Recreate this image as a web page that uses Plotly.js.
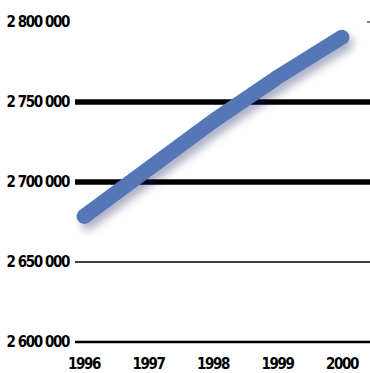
<!DOCTYPE html>
<html>
<head>
<meta charset="utf-8">
<script src="https://cdn.plot.ly/plotly-3.0.1.min.js"></script>
<style>
  html, body { margin: 0; padding: 0; background: #fff; }
  #chart { width: 370px; height: 373px; }
  .scatterlayer .trace path.js-line {
    stroke-linecap: round;
    filter: drop-shadow(4px 6px 4px rgba(20, 30, 90, 0.35));
  }
  .xtick text, .ytick text { letter-spacing: -1.4px; }
</style>
</head>
<body>
<div id="chart"></div>
<script>
// Data
const years = [1996, 1997, 1998, 1999, 2000];
const population = [2678500, 2709000, 2738000, 2765500, 2790500];

// Horizontal reference lines (y axis levels)
const gridLevels = [2600000, 2650000, 2700000, 2750000, 2800000];
const gridWidths = [2.5, 1.5, 5.5, 5.5, 1];
const gridStarts = [0, 0, 0, 0, 0.99];

const shapes = gridLevels.map((v, i) => ({
  type: 'line', xref: 'paper', yref: 'y',
  x0: gridStarts[i], x1: 1, y0: v, y1: v,
  line: { color: '#000', width: gridWidths[i] },
  layer: 'below'
}));

const fontFam = '"DejaVu Sans Condensed", sans-serif';
const tickFont = { family: fontFam, size: 15, color: '#000', weight: 'bold' };

const trace = {
  x: years,
  y: population,
  type: 'scatter',
  mode: 'lines',
  line: { color: '#5577b8', width: 15 },
  hoverinfo: 'none'
};

const layout = {
  width: 370, height: 373,
  margin: { l: 75, r: 0, t: 12, b: 27 },
  paper_bgcolor: '#fff', plot_bgcolor: '#fff',
  separators: ', ',
  showlegend: false,
  font: tickFont,
  xaxis: {
    range: [1995.86, 2000.434],
    tickvals: years,
    ticktext: years.map(String),
    showgrid: false, zeroline: false, showline: false, ticks: '',
    tickfont: tickFont,
    ticklabelstandoff: 7
  },
  yaxis: {
    range: [2597500, 2806250],
    tickvals: gridLevels,
    tickformat: ',d',
    showgrid: false, zeroline: false, showline: false, ticks: '',
    tickfont: tickFont,
    ticklabelstandoff: 5
  },
  shapes: shapes
};

Plotly.newPlot('chart', [trace], layout, { displayModeBar: false, staticPlot: true });
</script>
</body>
</html>
